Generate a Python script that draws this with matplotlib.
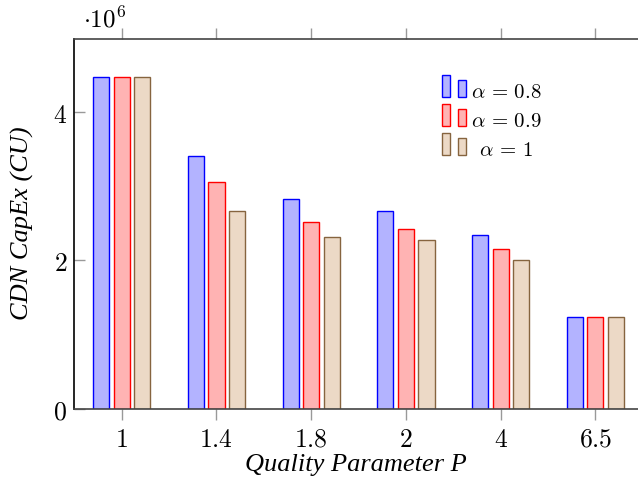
import matplotlib
matplotlib.use("Agg")
import matplotlib.pyplot as plt
import numpy as np
from matplotlib.patches import Rectangle
from matplotlib.legend_handler import HandlerBase
from matplotlib.ticker import FuncFormatter

plt.rcParams["mathtext.fontset"] = "cm"

# data (CDN CapEx in CU)
quality = ["1", "1.4", "1.8", "2", "4", "6.5"]
capex_08 = [4.47e6, 3.41e6, 2.83e6, 2.67e6, 2.34e6, 1.24e6]
capex_09 = [4.47e6, 3.06e6, 2.52e6, 2.43e6, 2.15e6, 1.24e6]
capex_10 = [4.47e6, 2.67e6, 2.31e6, 2.28e6, 2.01e6, 1.24e6]
labels = [r"$\alpha \,=\, 0.8$", r"$\alpha \,=\, 0.9$", r"$\,\;\alpha \,=\, 1$"]

fills = ["#b3b3ff", "#ffb3b3", "#ecd9c6"]
edges = ["#0000ff", "#ff0000", "#86643f"]


# pgfplots-like ybar legend: two little bars
class TwoBars(HandlerBase):
    def create_artists(self, legend, orig, xd, yd, w, h, fs, trans):
        p = orig.patches[0]
        fc = p.get_facecolor()
        ec = p.get_edgecolor()
        x0, y0 = -xd, -yd
        bw = w / 3.0
        r1 = Rectangle((x0, y0), bw, 1.5 * h, facecolor=fc, edgecolor=ec,
                       lw=1.0, transform=trans)
        r2 = Rectangle((x0 + 2 * bw, y0), bw, 1.16 * h, facecolor=fc,
                       edgecolor=ec, lw=1.0, transform=trans)
        return [r1, r2]


fig = plt.figure(figsize=(6.38, 4.89), dpi=100)
ax = fig.add_axes([74 / 638, 79 / 489, 564 / 638, 370 / 489])

x = np.arange(len(quality))
bw = 0.17
off = 0.217
bars = []
for i, vals in enumerate([capex_08, capex_09, capex_10]):
    b = ax.bar(x + (i - 1) * off, vals, bw, facecolor=fills[i],
               edgecolor=edges[i], linewidth=1.0, label=labels[i], zorder=2)
    bars.append(b)

ax.set_xlim(-0.504, 5.45)
ax.set_ylim(0, 4.983e6)
ax.set_xticks(x)
ax.set_xticklabels([r"$%s$" % q for q in quality], fontsize=18.5)
ax.set_yticks([0, 2e6, 4e6])
ax.yaxis.set_major_formatter(FuncFormatter(lambda v, p: r"$%d$" % round(v / 1e6)))
ax.tick_params(axis="y", labelsize=18.5, direction="in", length=8,
               color="#999999", width=1.0, pad=5)
ax.tick_params(axis="x", direction="out", length=8, color="#999999",
               width=1.0, top=True, pad=4)

for s in ["top", "bottom"]:
    ax.spines[s].set_color("#444444")
    ax.spines[s].set_linewidth(1.2)
ax.spines["left"].set_color("black")
ax.spines["left"].set_linewidth(1.2)
ax.spines["right"].set_visible(False)

ax.text(0.016, 1.035, r"$\cdot 10^6$", transform=ax.transAxes, fontsize=18,
        ha="left", va="baseline")

lab_font = {"family": "Liberation Serif", "style": "italic", "size": 19}
ax.set_ylabel("CDN CapEx (CU)", fontdict=lab_font)
ax.yaxis.set_label_coords(-0.071, 0.506)
ax.set_xlabel("Quality Parameter P", fontdict=lab_font)
ax.xaxis.set_label_coords(0.5, -0.118)

ax.legend(handler_map={b: TwoBars() for b in bars}, loc="upper left",
          bbox_to_anchor=(0.627, 0.927), frameon=False, fontsize=15,
          handlelength=1.15, handletextpad=0.24, labelspacing=0.45,
          borderpad=0.2)

fig.savefig("out.png", dpi=100)
